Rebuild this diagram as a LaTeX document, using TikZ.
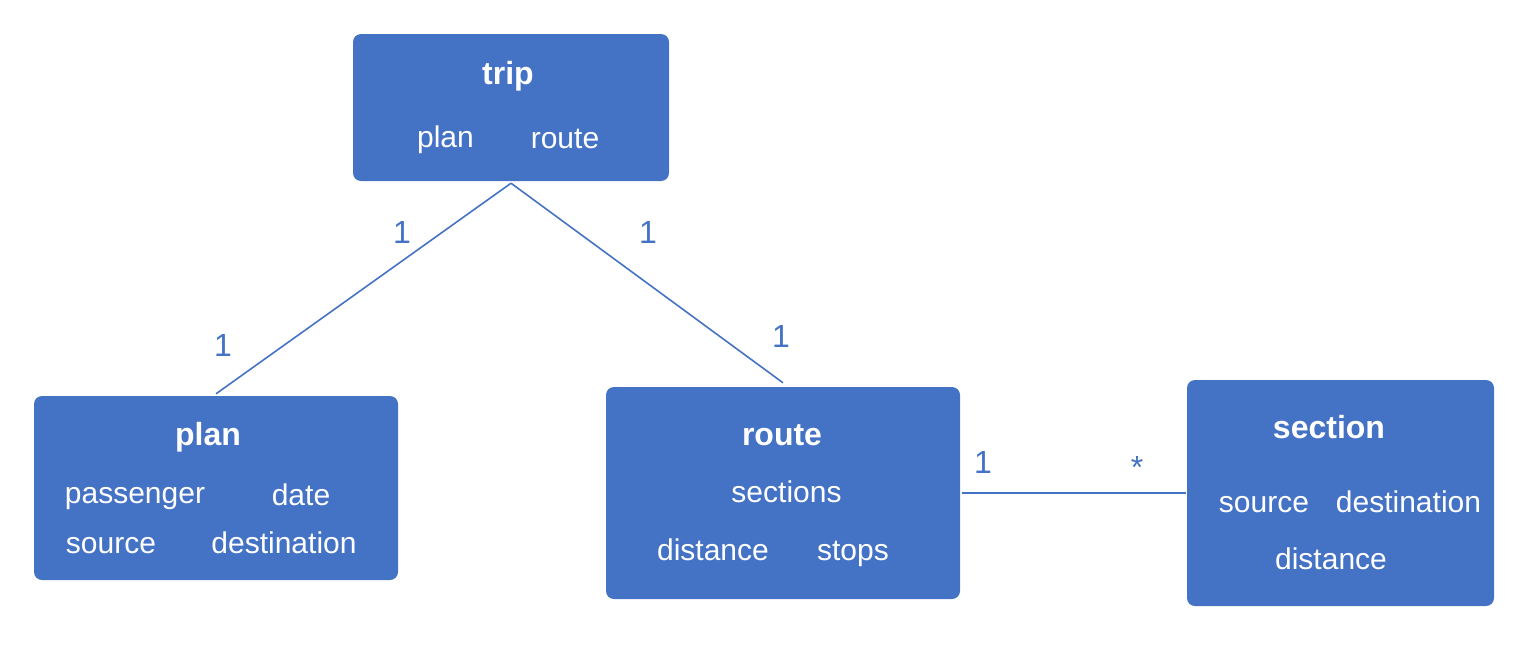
\documentclass[tikz,border=0pt]{standalone}
\usepackage{fontspec}
\setmainfont{Liberation Sans}
\definecolor{ublue}{HTML}{4472C4}
\tikzset{
  box/.style={fill=ublue, draw=none, rounded corners=8pt, inner sep=0pt},
  ttl/.style={text=white, anchor=base, font=\fontsize{32}{38}\selectfont\bfseries, inner sep=0pt},
  fld/.style={text=white, anchor=base, font=\fontsize{30}{36}\selectfont, inner sep=0pt},
  mult/.style={text=ublue, anchor=base, font=\fontsize{32}{38}\selectfont, inner sep=0pt},
  conn/.style={draw=ublue, line width=1.6pt}
}
\begin{document}
\begin{tikzpicture}[x=1pt,y=-1pt]
\useasboundingbox (0,0) rectangle (1524,648);
% boxes
\node[box, minimum width=316pt, minimum height=147pt] (trip) at (511,107.5) {};
\node[box, minimum width=364pt, minimum height=184pt] (plan) at (216,488) {};
\node[box, minimum width=354pt, minimum height=212pt] (route) at (783,493) {};
\node[box, minimum width=307pt, minimum height=226pt] (section) at (1340.5,493) {};
% trip texts
\node[ttl] (tript) at (508,84) {trip};
\node[fld] (tripa) at (445.5,147) {plan};
\node[fld] (tripb) at (565,148) {route};
% plan texts
\node[ttl] (plant) at (208,445) {plan};
\node[fld] (plana) at (135,503) {passenger};
\node[fld] (planb) at (301,505) {date};
\node[fld] (planc) at (111,553) {source};
\node[fld] (pland) at (284,553) {destination};
% route texts
\node[ttl] (routet) at (782,445) {route};
\node[fld] (routea) at (786.5,502) {sections};
\node[fld] (routeb) at (713,560) {distance};
\node[fld] (routec) at (853,560) {stops};
% section texts
\node[ttl] (sectiont) at (1329,438) {section};
\node[fld] (sectiona) at (1264,512) {source};
\node[fld] (sectionb) at (1408.5,512) {destination};
\node[fld] (sectionc) at (1331,569) {distance};
% connectors
\coordinate (tripbot) at ([yshift=-2pt]trip.south);
\coordinate (plantop) at ([yshift=2pt]plan.north);
\coordinate (routetop) at ([yshift=4pt]route.north);
\draw[conn] (tripbot) -- (plantop);
\draw[conn] (tripbot) -- (routetop);
\draw[conn] ([xshift=2pt]route.east) -- ([xshift=-1pt]section.west);
% multiplicities
\node[mult] (m1) at (402,243) {1};
\node[mult] (m2) at (223,356) {1};
\node[mult] (m3) at (648,243) {1};
\node[mult] (m4) at (781,347) {1};
\node[mult] (m5) at (983,473) {1};
\node[mult] (m6) at (1137,478) {*};
\end{tikzpicture}
\end{document}
